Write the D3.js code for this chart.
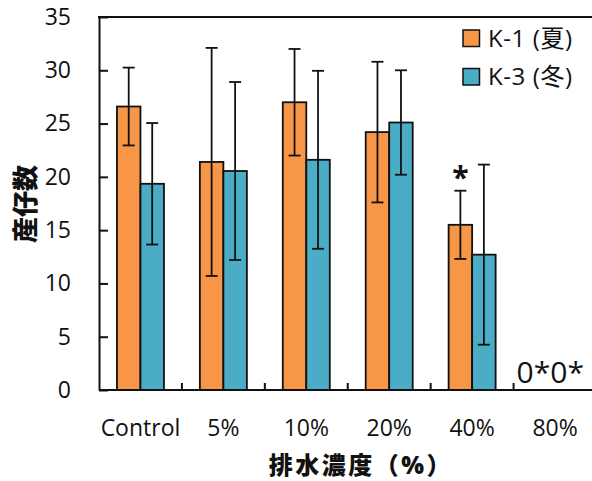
<!DOCTYPE html>
<html><head><meta charset="utf-8">
<script src="https://cdn.jsdelivr.net/npm/d3@7"></script>
<style>
body{margin:0;background:#fff;}
text{font-family:"Open Sans","Noto Sans CJK JP",sans-serif;}
</style></head>
<body><svg id="c" width="592" height="481"></svg>
<script>
const categories = ["Control","5%","10%","20%","40%","80%"];
const seriesNames = ["K-1 (夏)","K-3 (冬)"];
const k1Mean = [26.6, 21.4, 27.0, 24.2, 15.5, 0];
const k1Err  = [3.65, 10.7, 5.0, 6.6, 3.2, null];
const k3Mean = [19.35, 20.55, 21.6, 25.1, 12.7, 0];
const k3Err  = [5.7, 8.35, 8.35, 4.9, 8.45, null];
const yTicks = [0,5,10,15,20,25,30,35];
const colors = ["#F79646","#4BACC6"];

const svg = d3.select("#c");
const x0 = 99, x1 = 596.5, yTop = 17, yBot = 390;
const x = d3.scaleBand().domain(categories).range([x0, x1]).padding(0);
const y = d3.scaleLinear().domain([0,35]).range([yBot, yTop]);
const bw = x.bandwidth();
const xs = d3.scaleBand().domain(seriesNames).range([bw/2 - 23.5, bw/2 + 23.5]).padding(0);

const data = categories.map((c,i)=>({cat:c, vals:[
  {s:seriesNames[0], m:k1Mean[i], e:k1Err[i], col:colors[0]},
  {s:seriesNames[1], m:k3Mean[i], e:k3Err[i], col:colors[1]}]}));

// bars
const g = svg.append("g");
data.forEach(d=>{
  d.vals.forEach(v=>{
    if(v.m<=0) return;
    g.append("rect").attr("x", x(d.cat)+xs(v.s)).attr("y", y(v.m))
      .attr("width", xs.bandwidth()).attr("height", y(0)-y(v.m))
      .attr("fill", v.col).attr("stroke","#111").attr("stroke-width",1.8);
  });
});
// error bars
data.forEach(d=>{
  d.vals.forEach(v=>{
    if(v.e==null) return;
    const cx = x(d.cat)+xs(v.s)+xs.bandwidth()/2;
    const t = y(v.m+v.e), b = y(v.m-v.e);
    g.append("line").attr("x1",cx).attr("x2",cx).attr("y1",t).attr("y2",b).attr("stroke","#111").attr("stroke-width",1.8);
    [t,b].forEach(yy=>g.append("line").attr("x1",cx-6).attr("x2",cx+6).attr("y1",yy).attr("y2",yy).attr("stroke","#111").attr("stroke-width",1.8));
  });
});

// y axis
const ya = svg.append("g").attr("transform",`translate(${x0},0)`)
  .call(d3.axisLeft(y).tickValues(yTicks).tickSizeInner(-9).tickSizeOuter(0).tickPadding(28));
ya.select(".domain").attr("stroke","#111").attr("stroke-width",2);
ya.selectAll(".tick line").attr("stroke","#111").attr("stroke-width",2);
ya.selectAll(".tick text").attr("font-size",23).attr("fill","#111").attr("font-family",'"Open Sans",sans-serif');

// x axis labels
const xa = svg.append("g").attr("transform",`translate(0,${yBot})`)
  .call(d3.axisBottom(x).tickSize(0).tickPadding(0));
xa.select(".domain").remove();
xa.selectAll(".tick text").attr("font-size",23).attr("fill","#111").attr("dy","0").attr("y",46).attr("font-family",'"Open Sans",sans-serif');
// bottom line and top border
svg.append("line").attr("x1",x0).attr("x2",x1).attr("y1",yBot).attr("y2",yBot).attr("stroke","#111").attr("stroke-width",2);
svg.append("line").attr("x1",x0-1).attr("x2",x1).attr("y1",yTop).attr("y2",yTop).attr("stroke","#111").attr("stroke-width",2);
// boundary ticks
categories.slice(1).forEach(c=>{
  svg.append("line").attr("x1",x(c)).attr("x2",x(c)).attr("y1",yBot).attr("y2",yBot-7).attr("stroke","#111").attr("stroke-width",2);
});

// annotations
const i40 = categories.indexOf("40%");
svg.append("text").attr("x", x("40%")+xs(seriesNames[0])+xs.bandwidth()/2).attr("y", y(k1Mean[i40]+k1Err[i40])-3)
  .attr("text-anchor","middle").attr("font-size",30).attr("font-weight","bold").attr("fill","#111").text("*");
svg.append("text").attr("x", x("80%")+3).attr("y", y(0)-7).attr("font-size",30).attr("fill","#111").text("0*0*");

// legend
seriesNames.forEach((s,i)=>{
  const ly = 30 + i*38.5;
  svg.append("rect").attr("x",463).attr("y",ly).attr("width",16.5).attr("height",16.5).attr("fill",colors[i]).attr("stroke","#111").attr("stroke-width",1.5);
  svg.append("text").attr("x",488).attr("y",ly+8.25).attr("dy","0.36em").attr("font-size",24).attr("letter-spacing","0.6px").attr("fill","#111").text(s);
});

// axis titles
svg.append("text").attr("transform","translate(26,204) rotate(-90)").attr("text-anchor","middle").attr("dy","0.36em")
  .attr("font-size",26).attr("font-weight","900").attr("fill","#111").attr("font-family",'"Noto Sans CJK JP",sans-serif').text("産仔数");
svg.append("text").attr("x",361).attr("y",474).attr("text-anchor","middle").attr("letter-spacing","2.5px")
  .attr("font-size",24).attr("font-weight","900").attr("fill","#111").attr("font-family",'"Noto Sans CJK JP",sans-serif').text("排水濃度（%）");
</script></body></html>
